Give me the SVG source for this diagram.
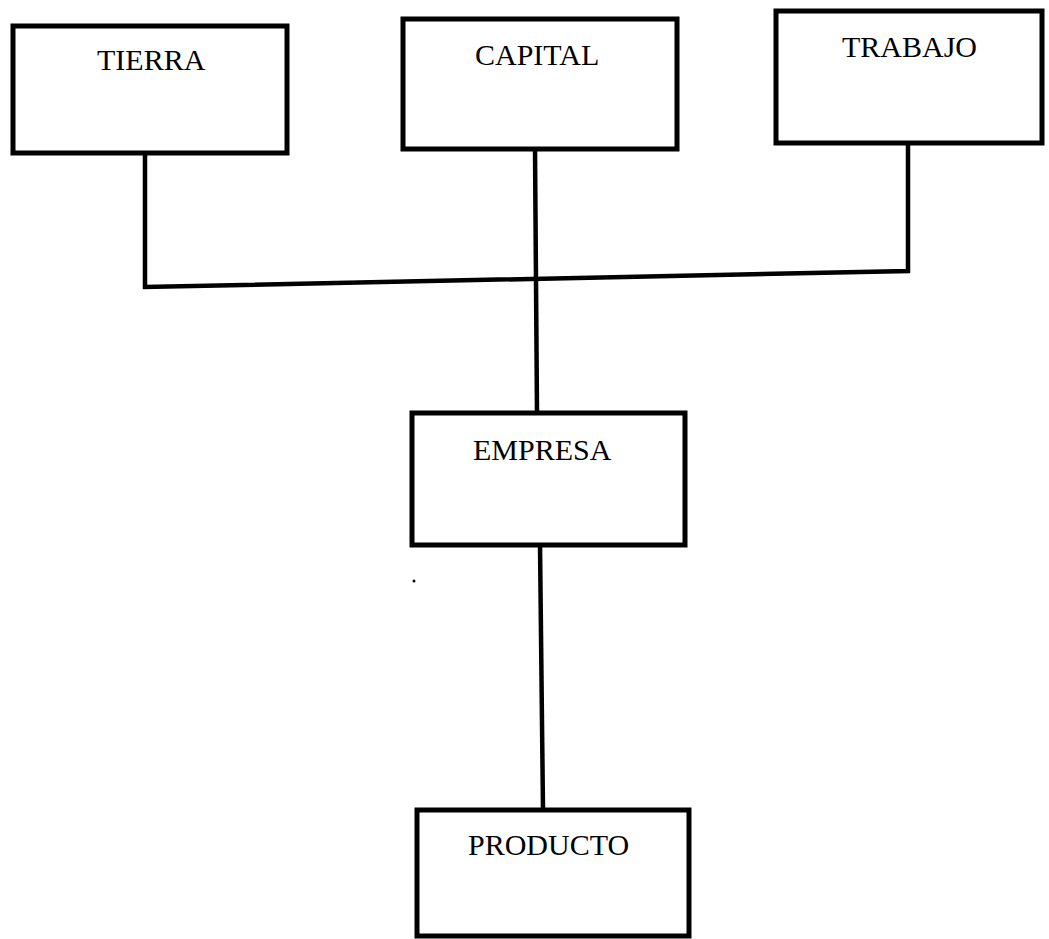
<svg xmlns="http://www.w3.org/2000/svg" width="1049" height="939" viewBox="0 0 1049 939">
<style>
.box{fill:#fff;stroke:#000;stroke-width:5}
.lbl{font-family:"Liberation Serif","Times New Roman",serif;font-size:30px;fill:#000}
.con{fill:none;stroke:#000;stroke-width:4.5;stroke-linejoin:miter}
</style>
<rect width="1049" height="939" fill="#fff"/>
<g id="connectors">
<polyline class="con" points="145,153 145,287 908,271 908,143"/>
<line class="con" x1="535" y1="149" x2="537" y2="413"/>
<line class="con" x1="540" y1="545" x2="543" y2="810"/>
</g>
<g id="tierra"><rect class="box" x="13" y="26" width="274" height="127"/><text class="lbl" x="97" y="70">TIERRA</text></g>
<g id="capital"><rect class="box" x="403" y="19" width="274" height="130"/><text class="lbl" x="475" y="65">CAPITAL</text></g>
<g id="trabajo"><rect class="box" x="776" y="11" width="266" height="132"/><text class="lbl" x="842" y="57">TRABAJO</text></g>
<g id="empresa"><rect class="box" x="412" y="413" width="273" height="132"/><text class="lbl" x="473" y="460">EMPRESA</text></g>
<g id="producto"><rect class="box" x="417" y="810" width="272" height="126"/><text class="lbl" x="468" y="855">PRODUCTO</text></g>
<circle cx="414" cy="581" r="1.5" fill="#000"/>
</svg>
